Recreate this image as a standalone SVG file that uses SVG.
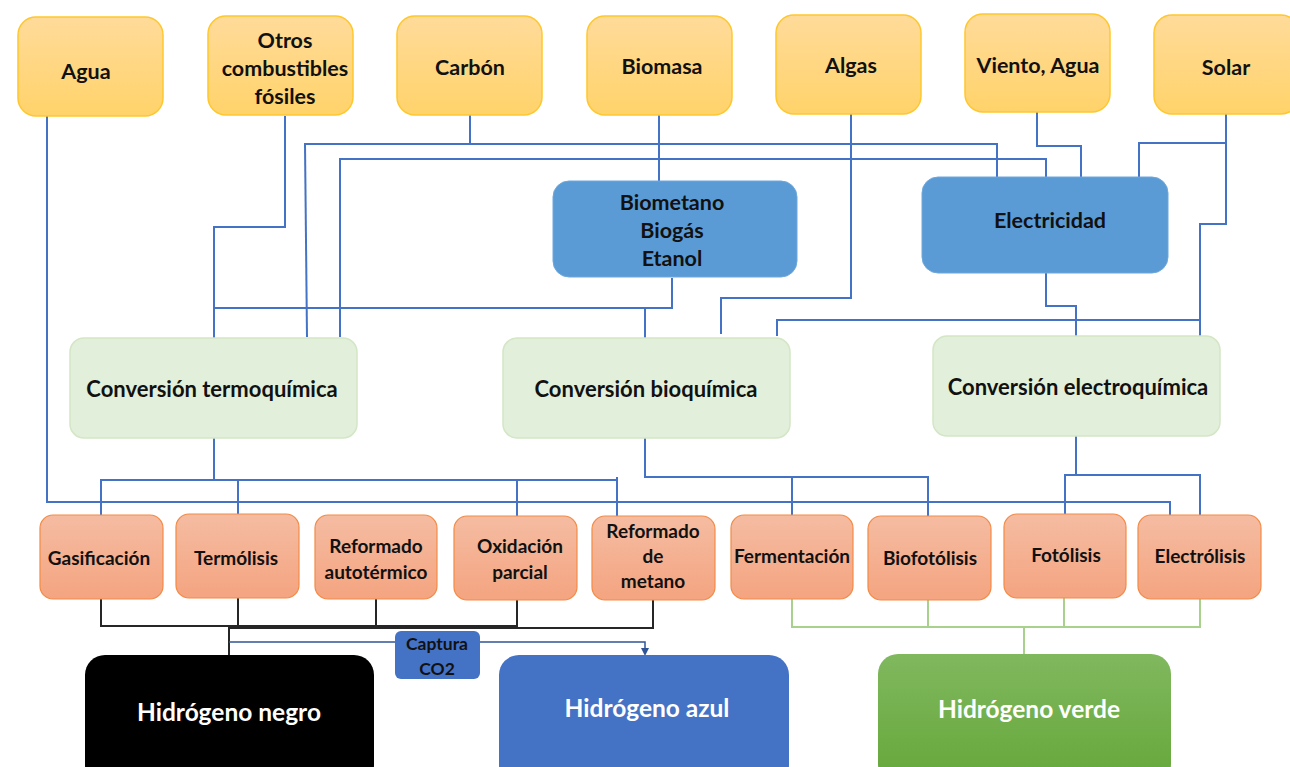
<svg xmlns="http://www.w3.org/2000/svg" width="1290" height="767" viewBox="0 0 1290 767">
<defs>
<linearGradient id="gy" x1="0" y1="0" x2="0" y2="1"><stop offset="0" stop-color="#FFDB9A"/><stop offset="1" stop-color="#FFD36A"/></linearGradient>
<linearGradient id="go" x1="0" y1="0" x2="0" y2="1"><stop offset="0" stop-color="#F5BCA2"/><stop offset="1" stop-color="#F4A480"/></linearGradient>
<linearGradient id="gg" x1="0" y1="0" x2="0" y2="1"><stop offset="0" stop-color="#80B85E"/><stop offset="1" stop-color="#65A73A"/></linearGradient>
<marker id="arr" markerWidth="8" markerHeight="8" refX="4" refY="4" orient="auto" markerUnits="userSpaceOnUse"><path d="M0,0 L8,4 L0,8 z" fill="#2F5597"/></marker>
<style>
.src{fill:url(#gy);stroke:#FFC72C;stroke-width:1.5}
.mid{fill:#5B9BD5;stroke:#6FA7DA;stroke-width:1}
.conv{fill:#E2EFDA;stroke:#D3E6C6;stroke-width:1.5}
.proc{fill:url(#go);stroke:#F48A45;stroke-width:1.2}
.t{font-family:Lato,"Liberation Sans",sans-serif;font-weight:bold;fill:#111;text-anchor:middle;dominant-baseline:central}
.ts{font-size:21.5px}.tm{font-size:21.5px}.tc{font-size:22px}.tp{font-size:19px}
.tw{font-family:Lato,"Liberation Sans",sans-serif;font-weight:bold;fill:#fff;text-anchor:middle;dominant-baseline:central;font-size:24.5px}
.b{fill:none;stroke:#4472C4;stroke-width:2}
.k{fill:none;stroke:#262626;stroke-width:2}
.g{fill:none;stroke:#A9D18E;stroke-width:2}
.c{fill:none;stroke:#2F5597;stroke-width:1.5}
</style>
</defs>
<rect width="1290" height="767" fill="#fff"/>

<g id="connectors">
<path class="b" d="M47,116 V502 H1170 V515"/>
<path class="b" d="M285,116 V227 H214 V338"/>
<path class="b" d="M214,308 H672 V278"/>
<path class="b" d="M645,308 V338"/>
<path class="b" d="M470,115 V144"/>
<path class="b" d="M304,144 H997 V177"/>
<path class="b" d="M305,144 L307,337"/>
<path class="b" d="M340,337 V159 H1046 V177"/>
<path class="b" d="M659,115 V181"/>
<path class="b" d="M851,114 V298 H721 V334"/>
<path class="b" d="M1037,112 V146 H1081 V177"/>
<path class="b" d="M1226,114 V224 H1200 V336"/>
<path class="b" d="M1226,143 H1139 V179"/>
<path class="b" d="M1046,273 V306 H1076 V336"/>
<path class="b" d="M777,336 V320 H1200"/>
<path class="b" d="M214,438 V480"/>
<path class="b" d="M101,515 V480 H617 M617,477 V516"/>
<path class="b" d="M238,480 V514 M517,480 V516"/>
<path class="b" d="M645,438 V477 H928 V516 M792,477 V515"/>
<path class="b" d="M1076,436 V475 M1065,514 V475 H1200 V515"/>
<path class="k" d="M101,599 V626 H517 V600 M238,598 V626 M376,599 V626"/>
<path class="k" d="M653,600 V628 H229 V656"/>
<path class="c" d="M229,642 H645 V652" marker-end="url(#arr)"/>
<path class="g" d="M792,599 V627 H1064 V598 M928,600 V627"/>
<path class="g" d="M1200,599 V627 H1024 V655"/>
</g>

<g id="agua"><rect class="src" x="18" y="17" width="145" height="99" rx="18"/><text class="t ts" x="86" y="71">Agua</text></g>
<g id="otros"><rect class="src" x="208" y="16" width="145" height="99" rx="18"/><text class="t ts" x="285" y="40">Otros</text><text class="t ts" x="285" y="68">combustibles</text><text class="t ts" x="285" y="96">fósiles</text></g>
<g id="carbon"><rect class="src" x="397" y="16" width="145" height="99" rx="18"/><text class="t ts" x="470" y="67">Carbón</text></g>
<g id="biomasa"><rect class="src" x="587" y="16" width="145" height="99" rx="18"/><text class="t ts" x="662" y="66">Biomasa</text></g>
<g id="algas"><rect class="src" x="776" y="15" width="145" height="99" rx="18"/><text class="t ts" x="851" y="65">Algas</text></g>
<g id="viento"><rect class="src" x="965" y="14" width="145" height="98" rx="18"/><text class="t ts" x="1038" y="65">Viento, Agua</text></g>
<g id="solar"><rect class="src" x="1154" y="15" width="145" height="99" rx="18"/><text class="t ts" x="1226" y="67">Solar</text></g>

<g id="biometano"><rect class="mid" x="553" y="181" width="244" height="96" rx="16"/><text class="t tm" x="672" y="202">Biometano</text><text class="t tm" x="672" y="230">Biogás</text><text class="t tm" x="672" y="258">Etanol</text></g>
<g id="electricidad"><rect class="mid" x="922" y="177" width="246" height="96" rx="16"/><text class="t tm" x="1050" y="220">Electricidad</text></g>

<g id="termoquimica"><rect class="conv" x="70" y="338" width="287" height="100" rx="14"/><text class="t tc" x="212" y="388">Conversión termoquímica</text></g>
<g id="bioquimica"><rect class="conv" x="503" y="338" width="287" height="100" rx="14"/><text class="t tc" x="646" y="388">Conversión bioquímica</text></g>
<g id="electroquimica"><rect class="conv" x="933" y="336" width="287" height="100" rx="14"/><text class="t tc" x="1078" y="386">Conversión electroquímica</text></g>

<g id="gasificacion"><rect class="proc" x="40" y="515" width="123" height="84" rx="13"/><text class="t tp" x="99" y="557">Gasificación</text></g>
<g id="termolisis"><rect class="proc" x="176" y="514" width="123" height="84" rx="13"/><text class="t tp" x="236" y="557">Termólisis</text></g>
<g id="autotermico"><rect class="proc" x="315" y="515" width="122" height="84" rx="13"/><text class="t tp" x="376" y="545">Reformado</text><text class="t tp" x="376" y="571">autotérmico</text></g>
<g id="oxidacion"><rect class="proc" x="454" y="516" width="123" height="84" rx="13"/><text class="t tp" x="520" y="545">Oxidación</text><text class="t tp" x="520" y="571">parcial</text></g>
<g id="metano"><rect class="proc" x="592" y="516" width="123" height="84" rx="13"/><text class="t tp" x="653" y="530">Reformado</text><text class="t tp" x="653" y="555">de</text><text class="t tp" x="653" y="580">metano</text></g>
<g id="fermentacion"><rect class="proc" x="731" y="515" width="122" height="84" rx="13"/><text class="t tp" x="792" y="555">Fermentación</text></g>
<g id="biofotolisis"><rect class="proc" x="868" y="516" width="123" height="84" rx="13"/><text class="t tp" x="930" y="557">Biofotólisis</text></g>
<g id="fotolisis"><rect class="proc" x="1004" y="514" width="122" height="84" rx="13"/><text class="t tp" x="1066" y="554">Fotólisis</text></g>
<g id="electrolisis"><rect class="proc" x="1138" y="515" width="123" height="84" rx="13"/><text class="t tp" x="1200" y="555">Electrólisis</text></g>

<g id="negro"><rect x="85" y="655" width="289" height="130" rx="20" fill="#000"/><text class="tw" x="229" y="711">Hidrógeno negro</text></g>
<g id="azul"><rect x="499" y="655" width="290" height="130" rx="20" fill="#4472C4"/><text class="tw" x="647" y="707">Hidrógeno azul</text></g>
<g id="verde"><rect x="878" y="654" width="293" height="130" rx="20" fill="url(#gg)"/><text class="tw" x="1029" y="708">Hidrógeno verde</text></g>
<g id="captura"><rect x="395" y="631" width="85" height="48" rx="6" fill="#4472C4"/><text class="t" x="437" y="643" font-size="17.5">Captura</text><text class="t" x="437" y="668" font-size="17.5">CO2</text></g>
</svg>
